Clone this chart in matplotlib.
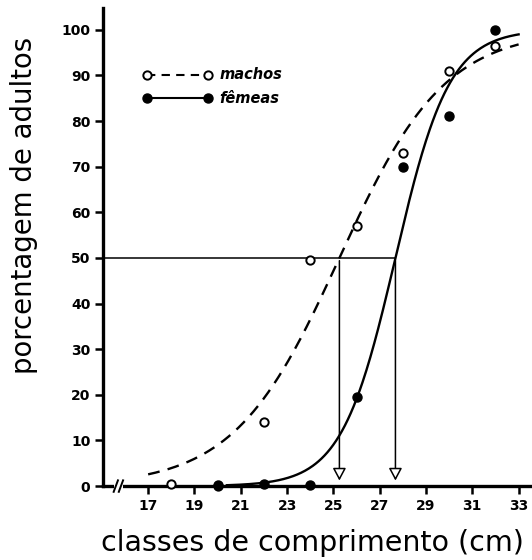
import numpy as np
import matplotlib
matplotlib.use("Agg")
import matplotlib.pyplot as plt

# Observed data (percentage of adults per length class)
machos_classes = [18, 20, 22, 24, 26, 28, 30, 32]
machos = [0.5, 0.0, 14.0, 49.5, 57.0, 73.0, 91.0, 96.5]
femeas_classes = [20, 22, 24, 26, 28, 30, 32]
femeas = [0.3, 0.5, 0.3, 19.5, 70.0, 81.0, 100.0]

# Fitted logistic parameters (L50 and slope)
machos_L50, machos_k, machos_range = 25.26, 0.44, (17.0, 33.0)
femeas_L50, femeas_k, femeas_range = 27.68, 0.86, (20.4, 33.0)

xticks = [17, 19, 21, 23, 25, 27, 29, 31, 33]
yticks = [0, 10, 20, 30, 40, 50, 60, 70, 80, 90, 100]


def logistic(x, L50, k):
    return 100.0 / (1.0 + np.exp(-k * (x - L50)))


fig = plt.figure(figsize=(5.32, 5.60), dpi=100)
ax = fig.add_axes([0.1936, 0.132, 0.803, 0.854])
ax.set_xlim(15.05, 33.5)
ax.set_ylim(0, 104.8)

for s in ["top", "right"]:
    ax.spines[s].set_visible(False)
for s in ["left", "bottom"]:
    ax.spines[s].set_linewidth(2.4)
    ax.spines[s].set_color("black")

ax.set_xticks(xticks)
ax.set_yticks(yticks)
ax.tick_params(axis="both", direction="out", length=6, width=1.8,
               labelsize=10, pad=3)
for lab in ax.get_xticklabels() + ax.get_yticklabels():
    lab.set_fontweight("bold")
    lab.set_family("DejaVu Sans")

# fitted curves
xm = np.linspace(*machos_range, 300)
ax.plot(xm, logistic(xm, machos_L50, machos_k), ls=(0, (5, 3.5)),
        color="black", lw=1.7, zorder=3)
xf = np.linspace(*femeas_range, 300)
ax.plot(xf, logistic(xf, femeas_L50, femeas_k), ls="-",
        color="black", lw=1.7, zorder=3)

# observed points
ax.plot(machos_classes, machos, "o", ms=6, mfc="white", mec="black", mew=1.4,
        ls="none", zorder=5, clip_on=False)
ax.plot(femeas_classes, femeas, "o", ms=6.5, mfc="black", mec="black",
        ls="none", zorder=6, clip_on=False)

# 50% line and L50 arrows
ax.plot([15.05, femeas_L50], [50, 50], color="black", lw=1.1, zorder=2)
for L in (machos_L50, femeas_L50):
    ax.annotate("", xy=(L, 0.6), xytext=(L, 50),
                arrowprops=dict(arrowstyle="-|>,head_length=0.75,head_width=0.4",
                                lw=1.1, color="black", fc="white"),
                zorder=4)

# axis break marker
ax.add_patch(plt.Rectangle((0.025, -0.01), 0.022, 0.02, transform=ax.transAxes,
                           facecolor="white", edgecolor="none", zorder=6,
                           clip_on=False))
for x0 in (0.025, 0.037):
    ax.plot([x0, x0 + 0.01], [-0.012, 0.012], transform=ax.transAxes,
            color="black", lw=1.4, zorder=7, clip_on=False)

# legend (manual)
ly_m, ly_f = 0.860, 0.811
ax.plot([0.103, 0.246], [ly_m, ly_m], transform=ax.transAxes,
        ls=(0, (4, 3)), color="black", lw=1.5)
ax.plot([0.103, 0.246], [ly_m, ly_m], "o", transform=ax.transAxes,
        ms=6, mfc="white", mec="black", mew=1.4)
ax.text(0.272, ly_m, "machos", transform=ax.transAxes, style="italic",
        fontweight="bold", fontsize=10.5, va="center", ha="left")
ax.plot([0.103, 0.246], [ly_f, ly_f], transform=ax.transAxes,
        ls="-", color="black", lw=1.5)
ax.plot([0.103, 0.246], [ly_f, ly_f], "o", transform=ax.transAxes,
        ms=6.5, mfc="black", mec="black")
ax.text(0.272, ly_f, "fêmeas", transform=ax.transAxes, style="italic",
        fontweight="bold", fontsize=10.5, va="center", ha="left")

fig.text(0.588, 0.030, "classes de comprimento (cm)", ha="center",
         va="center", fontsize=20.5)
fig.text(0.045, 0.634, "porcentagem de adultos", ha="center", va="center",
         rotation=90, fontsize=19.8)

fig.savefig("out.png", dpi=100)
